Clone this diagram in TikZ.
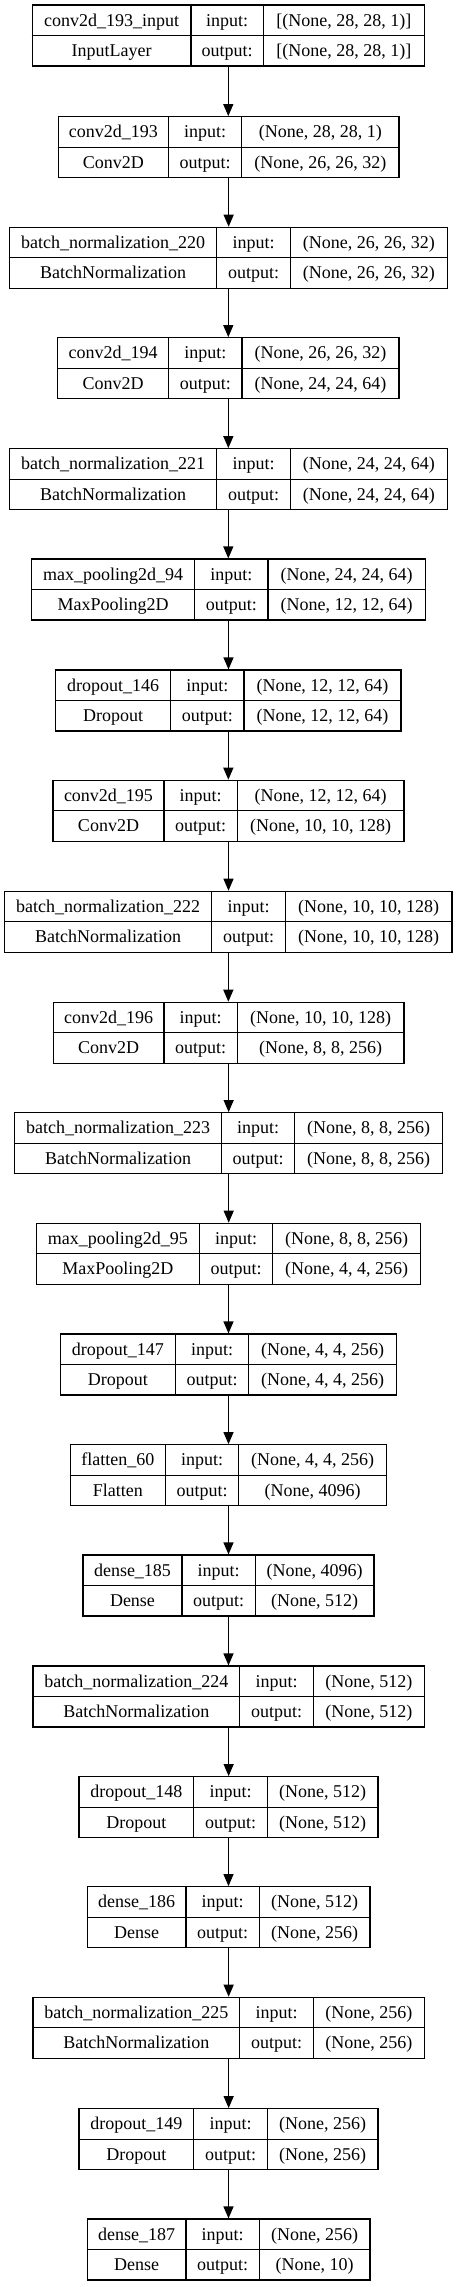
\documentclass[tikz,border=0pt]{standalone}
\usepackage{fontspec}
\setmainfont{Liberation Serif}
\usetikzlibrary{arrows.meta}
\tikzset{
  box/.style={draw=black, line width=1.2pt, inner sep=0pt, minimum height=61pt, fill=white},
  rule/.style={draw=black, line width=1.2pt},
  lbl/.style={anchor=base, inner sep=0pt, font=\fontsize{18}{20}\selectfont},
  arr/.style={draw=black, line width=1.2pt, -{Triangle[length=12pt,width=10pt]}}
}
% name, top, left, div1, div2, right
\newcommand\layerbox[6]{%
  \node[box, minimum width={(#6-#3)*1pt}] (#1) at ({(#3+#6)/2},{-#2-30.5}) {};
  \draw[rule] (#4,-#2) -- (#4,{-#2-61});
  \draw[rule] (#5,-#2) -- (#5,{-#2-61});
  \draw[rule] (#1.west) -- (#1.east);
  \coordinate (#1-a) at ({(#3+#4)/2},-#2);
  \coordinate (#1-b) at ({(#4+#5)/2},-#2);
  \coordinate (#1-c) at ({(#5+#6)/2},-#2);
}
% name, layer name, layer type, input shape, output shape
\newcommand\layertext[5]{%
  \node[lbl] (#1-t1) at ([yshift=-21pt]#1-a) {#2};
  \node[lbl] (#1-t2) at ([yshift=-51.5pt]#1-a) {#3};
  \node[lbl] (#1-i) at ([yshift=-21pt]#1-b) {input:};
  \node[lbl] (#1-o) at ([yshift=-51.5pt]#1-b) {output:};
  \node[lbl] (#1-s1) at ([yshift=-21pt]#1-c) {#4};
  \node[lbl] (#1-s2) at ([yshift=-51.5pt]#1-c) {#5};
}
\begin{document}
\begin{tikzpicture}[x=1pt,y=1pt]
\useasboundingbox[fill=white] (0,0) rectangle (457,-2287);

\layerbox{L1}{5}{32.3}{191}{263.3}{424.3}
\layertext{L1}{conv2d\_193\_input}{InputLayer}{[(None, 28, 28, 1)]}{[(None, 28, 28, 1)]}

\layerbox{L2}{116.7}{58.3}{168.3}{241.7}{399}
\layertext{L2}{conv2d\_193}{Conv2D}{(None, 28, 28, 1)}{(None, 26, 26, 32)}

\layerbox{L3}{227.3}{9.3}{216.7}{290.3}{447.3}
\layertext{L3}{batch\_normalization\_220}{BatchNormalization}{(None, 26, 26, 32)}{(None, 26, 26, 32)}

\layerbox{L4}{337.7}{57.7}{168.7}{242}{399}
\layertext{L4}{conv2d\_194}{Conv2D}{(None, 26, 26, 32)}{(None, 24, 24, 64)}

\layerbox{L5}{448.7}{9.3}{216.7}{290.3}{447.3}
\layertext{L5}{batch\_normalization\_221}{BatchNormalization}{(None, 24, 24, 64)}{(None, 24, 24, 64)}

\layerbox{L6}{559}{31.7}{194.7}{268}{425.3}
\layertext{L6}{max\_pooling2d\_94}{MaxPooling2D}{(None, 24, 24, 64)}{(None, 12, 12, 64)}

\layerbox{L7}{670}{55.7}{170.7}{244}{401}
\layertext{L7}{dropout\_146}{Dropout}{(None, 12, 12, 64)}{(None, 12, 12, 64)}

\layerbox{L8}{780.3}{53}{164}{237.3}{404}
\layertext{L8}{conv2d\_195}{Conv2D}{(None, 12, 12, 64)}{(None, 10, 10, 128)}

\layerbox{L9}{891.3}{4.7}{211.7}{285.3}{452}
\layertext{L9}{batch\_normalization\_222}{BatchNormalization}{(None, 10, 10, 128)}{(None, 10, 10, 128)}

\layerbox{L10}{1002.3}{53.3}{164}{237.3}{404}
\layertext{L10}{conv2d\_196}{Conv2D}{(None, 10, 10, 128)}{(None, 8, 8, 256)}

\layerbox{L11}{1112.7}{14.7}{221.3}{294.7}{442.7}
\layertext{L11}{batch\_normalization\_223}{BatchNormalization}{(None, 8, 8, 256)}{(None, 8, 8, 256)}

\layerbox{L12}{1223.3}{36.3}{199.3}{272.7}{420.7}
\layertext{L12}{max\_pooling2d\_95}{MaxPooling2D}{(None, 8, 8, 256)}{(None, 4, 4, 256)}

\layerbox{L13}{1334}{60.3}{175.3}{248.7}{396.7}
\layertext{L13}{dropout\_147}{Dropout}{(None, 4, 4, 256)}{(None, 4, 4, 256)}

\layerbox{L14}{1444.7}{70.3}{165.3}{238.7}{386.7}
\layertext{L14}{flatten\_60}{Flatten}{(None, 4, 4, 256)}{(None, 4096)}

\layerbox{L15}{1555}{83}{182}{255.3}{374}
\layertext{L15}{dense\_185}{Dense}{(None, 4096)}{(None, 512)}

\layerbox{L16}{1666}{33}{239.7}{313.3}{424.3}
\layertext{L16}{batch\_normalization\_224}{BatchNormalization}{(None, 512)}{(None, 512)}

\layerbox{L17}{1776.7}{79}{193.7}{267.3}{378}
\layertext{L17}{dropout\_148}{Dropout}{(None, 512)}{(None, 512)}

\layerbox{L18}{1886.7}{87.3}{186}{259.3}{370}
\layertext{L18}{dense\_186}{Dense}{(None, 512)}{(None, 256)}

\layerbox{L19}{1997.3}{33}{239.7}{313.3}{424.3}
\layertext{L19}{batch\_normalization\_225}{BatchNormalization}{(None, 256)}{(None, 256)}

\layerbox{L20}{2108.7}{79}{193.7}{267.3}{378}
\layertext{L20}{dropout\_149}{Dropout}{(None, 256)}{(None, 256)}

\layerbox{L21}{2219}{87.3}{186}{259.3}{370}
\layertext{L21}{dense\_187}{Dense}{(None, 256)}{(None, 10)}

\foreach \a/\b in {L1/L2,L2/L3,L3/L4,L4/L5,L5/L6,L6/L7,L7/L8,L8/L9,L9/L10,L10/L11,L11/L12,L12/L13,L13/L14,L14/L15,L15/L16,L16/L17,L17/L18,L18/L19,L19/L20,L20/L21}
  \draw[arr] (\a.south) -- (\a.south |- \b.north);
\end{tikzpicture}
\end{document}
